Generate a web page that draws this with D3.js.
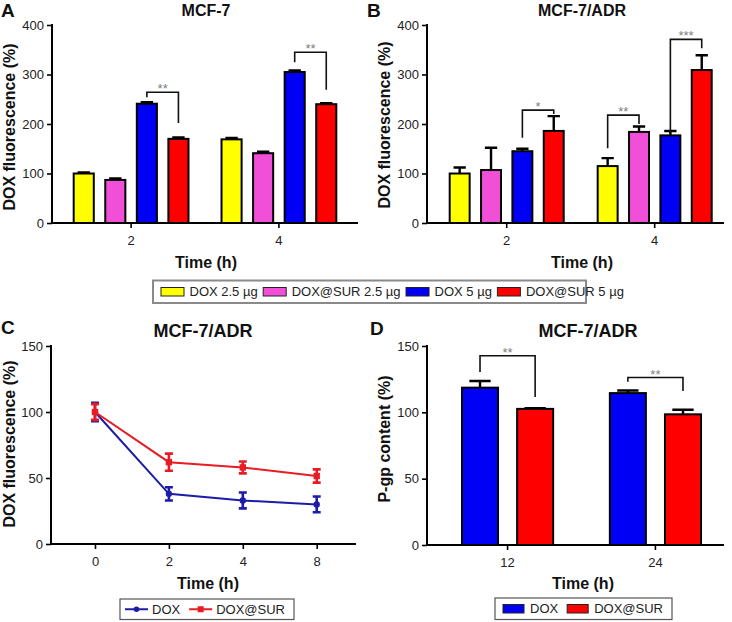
<!DOCTYPE html>
<html><head><meta charset="utf-8">
<script src="https://cdn.jsdelivr.net/npm/d3@7"></script>
<style>
body{margin:0;background:#fff}
svg{display:block;font-family:"Liberation Sans",Arial,Helvetica,sans-serif}
</style>
</head><body>
<svg id="c" width="732" height="622"></svg>
<script>
// ---------------- data ----------------
const seriesAB = ["DOX 2.5 µg", "DOX@SUR 2.5 µg", "DOX 5 µg", "DOX@SUR 5 µg"];
const timesAB = ["2", "4"];
const valuesA = [[100, 87, 241, 170], [169, 141, 305, 240]];
const errorsA = [[2, 3, 3, 3], [3, 3, 3, 2]];
const valuesB = [[100, 107, 145, 186], [115, 184, 177, 309]];
const errorsB = [[12, 45, 5, 30], [16, 11, 9, 30]];
const ticksAB = [0, 100, 200, 300, 400];

const timesC = ["0", "2", "4", "8"];
const seriesC = ["DOX", "DOX@SUR"];
const valuesCDox = [100, 38, 33, 30];
const errorsCDox = [7, 5, 6, 6];
const valuesCSur = [100, 62, 58, 51.5];
const errorsCSur = [6, 6.5, 4.5, 5];

const timesD = ["12", "24"];
const seriesD = ["DOX", "DOX@SUR"];
const valuesD = [[118.6, 102.6], [114.5, 98.5]];
const errorsD = [[5, 0.5], [2, 3.5]];
const ticksCD = [0, 50, 100, 150];

// significance brackets: [group, barFrom, barTo, top, leftFoot, rightFoot, label]
const sigA = [[0, 2, 3, 264, 254, 202, "**"], [1, 2, 3, 345, 325, 269, "**"]];
const sigB = [[0, 2, 3, 228, 172, 220, "*"], [1, 0, 1, 218, 151, 200, "**"], [1, 2, 3, 371, 180, 353, "***"]];
const sigD = [[0, 0, 1, 142.7, 130.4, 111.6, "**"], [1, 0, 1, 126.2, 123, 116.1, "**"]];

const barColors4 = ["#ffff00", "#f24fd8", "#0000f5", "#ff0000"];
const barColors2 = ["#0000f5", "#ff0000"];
const lineColors = ["#1c1ca6", "#e81c24"];

// ---------------- drawing ----------------
const svg = d3.select("#c");

function styleAxis(ax) {
  ax.selectAll(".domain").remove();
  ax.selectAll(".tick line").attr("stroke", "#000").attr("stroke-width", 1.6);
  ax.selectAll(".tick text").attr("font-size", 13).attr("fill", "#222")
    .attr("font-family", '"Liberation Sans",Arial,sans-serif');
}

function frame(p, y) {
  const g = svg.append("g");
  const ay = g.append("g").attr("transform", `translate(${p.axisLeft},0)`)
    .call(d3.axisLeft(y).tickValues(p.ticks).tickSize(5).tickPadding(3));
  styleAxis(ay);
  g.append("line").attr("x1", p.axisLeft).attr("x2", p.axisLeft)
    .attr("y1", y.range()[1] - 1).attr("y2", y.range()[0] + 1)
    .attr("stroke", "#000").attr("stroke-width", 2);
  g.append("text").attr("x", p.letterX).attr("y", p.letterY).text(p.letter)
    .attr("font-size", 19).attr("font-weight", "bold").attr("fill", "#111");
  g.append("text").attr("x", p.titleX).attr("y", p.titleY).text(p.title)
    .attr("text-anchor", "middle").attr("font-size", p.titleSize).attr("font-weight", "bold").attr("fill", "#111");
  g.append("text").attr("transform", `translate(${p.ylabelX},${p.ylabelY}) rotate(-90)`)
    .text(p.ylabel).attr("text-anchor", "middle").attr("font-size", 16).attr("font-weight", "bold").attr("fill", "#111");
  g.append("text").attr("x", p.xlabelX).attr("y", p.xlabelY).text("Time (h)")
    .attr("text-anchor", "middle").attr("font-size", 16).attr("font-weight", "bold").attr("fill", "#111");
  return g;
}

function xAxisLine(g, p, y, x) {
  const ax = g.append("g").attr("transform", `translate(0,${y.range()[0]})`)
    .call(d3.axisBottom(x).tickSize(5).tickPadding(8));
  styleAxis(ax);
  g.append("line").attr("x1", p.axisLeft).attr("x2", p.axisRight)
    .attr("y1", y.range()[0]).attr("y2", y.range()[0])
    .attr("stroke", "#000").attr("stroke-width", 2);
}

function barPanel(p) {
  const y = d3.scaleLinear().domain([0, p.ticks[p.ticks.length - 1]]).range([p.yBottom, p.yTop]);
  const g = frame(p, y);
  const x0 = d3.scaleBand().domain(p.times).range(p.bandRange)
    .paddingInner(p.outerPI).paddingOuter(p.outerPO);
  const x1 = d3.scaleBand().domain(d3.range(p.values[0].length))
    .range([0, x0.bandwidth()]).paddingInner(p.innerPI).paddingOuter(0);
  const bw = x1.bandwidth();
  const rows = [];
  p.times.forEach((t, gi) => p.values[gi].forEach((v, si) =>
    rows.push({t, gi, si, v, e: p.errors[gi][si]})));
  const cx = d => x0(d.t) + x1(d.si) + bw / 2;
  g.selectAll(".err").data(rows).join("path")
    .attr("d", d => `M${cx(d)},${y(d.v)}V${y(d.v + d.e)}M${cx(d) - bw * 0.28},${y(d.v + d.e)}H${cx(d) + bw * 0.28}`)
    .attr("stroke", "#000").attr("stroke-width", 2.4).attr("fill", "none");
  g.selectAll(".bar").data(rows).join("rect")
    .attr("x", d => x0(d.t) + x1(d.si) + 1).attr("width", bw - 2)
    .attr("y", d => y(d.v)).attr("height", d => y(0) - y(d.v))
    .attr("fill", d => p.colors[d.si]).attr("stroke", "#000").attr("stroke-width", 2);
  xAxisLine(g, p, y, x0);
  p.sig.forEach(s => {
    const t = p.times[s[0]];
    const xa = x0(t) + x1(s[1]) + bw / 2, xb = x0(t) + x1(s[2]) + bw / 2;
    g.append("path")
      .attr("d", `M${xa},${y(s[4])}V${y(s[3])}H${xb}V${y(s[5])}`)
      .attr("fill", "none").attr("stroke", "#111").attr("stroke-width", 1.6);
    g.append("text").attr("x", (xa + xb) / 2).attr("y", y(s[3]) + 1).text(s[6])
      .attr("text-anchor", "middle").attr("font-size", 13).attr("fill", "#808080");
  });
}

function linePanel(p) {
  const y = d3.scaleLinear().domain([0, p.ticks[p.ticks.length - 1]]).range([p.yBottom, p.yTop]);
  const g = frame(p, y);
  const x = d3.scalePoint().domain(p.times).range(p.pointRange).padding(0);
  xAxisLine(g, p, y, x);
  const series = [
    {vals: valuesCDox, errs: errorsCDox, color: lineColors[0], shape: "circle"},
    {vals: valuesCSur, errs: errorsCSur, color: lineColors[1], shape: "square"}
  ];
  series.forEach(s => {
    const pts = p.times.map((t, i) => ({t, v: s.vals[i], e: s.errs[i]}));
    g.append("path").datum(pts)
      .attr("d", d3.line().x(d => x(d.t)).y(d => y(d.v)))
      .attr("fill", "none").attr("stroke", s.color).attr("stroke-width", 2);
    g.selectAll(null).data(pts).join("path")
      .attr("d", d => `M${x(d.t)},${y(d.v - d.e)}V${y(d.v + d.e)}M${x(d.t) - 4},${y(d.v + d.e)}h8M${x(d.t) - 4},${y(d.v - d.e)}h8`)
      .attr("stroke", s.color).attr("stroke-width", 2.6).attr("fill", "none");
    if (s.shape === "circle") {
      g.selectAll(null).data(pts).join("circle")
        .attr("cx", d => x(d.t)).attr("cy", d => y(d.v)).attr("r", 3.2).attr("fill", s.color);
    } else {
      g.selectAll(null).data(pts).join("rect")
        .attr("x", d => x(d.t) - 3.2).attr("y", d => y(d.v) - 3.2)
        .attr("width", 6.4).attr("height", 6.4).attr("fill", s.color);
    }
  });
}

function legend(box, items, opt) {
  const g = svg.append("g");
  g.append("rect").attr("x", box[0]).attr("y", box[1]).attr("width", box[2]).attr("height", box[3])
    .attr("fill", "#fff").attr("stroke", opt.border).attr("stroke-width", opt.borderW);
  let cx = box[0] + opt.pad;
  const midY = box[1] + box[3] / 2;
  items.forEach(it => {
    if (it.kind === "swatch") {
      g.append("rect").attr("x", cx).attr("y", midY - opt.sh / 2).attr("width", opt.sw).attr("height", opt.sh)
        .attr("fill", it.color).attr("stroke", "#222").attr("stroke-width", 1);
    } else {
      g.append("line").attr("x1", cx).attr("x2", cx + opt.sw).attr("y1", midY).attr("y2", midY)
        .attr("stroke", it.color).attr("stroke-width", 2);
      if (it.kind === "circle")
        g.append("circle").attr("cx", cx + opt.sw / 2).attr("cy", midY).attr("r", 2.8).attr("fill", it.color);
      else
        g.append("rect").attr("x", cx + opt.sw / 2 - 3).attr("y", midY - 3).attr("width", 6).attr("height", 6).attr("fill", it.color);
    }
    cx += opt.sw + opt.gapIn;
    const t = g.append("text").attr("x", cx).attr("y", midY + 4.6).text(it.label)
      .attr("font-size", 13).attr("fill", "#222");
    cx += t.node().getComputedTextLength() + opt.gapOut;
  });
}

barPanel({
  letter: "A", letterX: 1, letterY: 17, title: "MCF-7", titleX: 206, titleY: 16, titleSize: 16,
  ylabel: "DOX fluorescence (%)", ylabelX: 15, ylabelY: 127, xlabelX: 206, xlabelY: 268,
  times: timesAB, values: valuesA, errors: errorsA, colors: barColors4, ticks: ticksAB,
  yTop: 25, yBottom: 223, axisLeft: 52, axisRight: 358,
  bandRange: [52, 358], outerPI: 0.21, outerPO: 0.14, innerPI: 0.3, sig: sigA
});
barPanel({
  letter: "B", letterX: 367, letterY: 17, title: "MCF-7/ADR", titleX: 582, titleY: 16, titleSize: 16,
  ylabel: "DOX fluorescence (%)", ylabelX: 390, ylabelY: 125, xlabelX: 582, xlabelY: 268,
  times: timesAB, values: valuesB, errors: errorsB, colors: barColors4, ticks: ticksAB,
  yTop: 25, yBottom: 223, axisLeft: 427, axisRight: 724,
  bandRange: [427, 734.4], outerPI: 0.216, outerPO: 0.1466, innerPI: 0.3, sig: sigB
});
linePanel({
  letter: "C", letterX: 1, letterY: 334, title: "MCF-7/ADR", titleX: 203, titleY: 337, titleSize: 18,
  ylabel: "DOX fluorescence (%)", ylabelX: 15, ylabelY: 444, xlabelX: 208, xlabelY: 589,
  times: timesC, ticks: ticksCD, yTop: 346, yBottom: 544, axisLeft: 51, axisRight: 356,
  pointRange: [95, 316.7]
});
barPanel({
  letter: "D", letterX: 370, letterY: 335, title: "MCF-7/ADR", titleX: 588, titleY: 337, titleSize: 18,
  ylabel: "P-gp content (%)", ylabelX: 390, ylabelY: 439, xlabelX: 583, xlabelY: 589,
  times: timesD, values: valuesD, errors: errorsD, colors: barColors2, ticks: ticksCD,
  yTop: 346, yBottom: 545, axisLeft: 427, axisRight: 724,
  bandRange: [427, 736], outerPI: 0.37, outerPO: 0.23, innerPI: 0.31, sig: sigD
});

legend([153, 280.5, 433, 22.5],
  seriesAB.map((s, i) => ({kind: "swatch", label: s, color: barColors4[i]})),
  {pad: 8, sw: 23, sh: 8.5, gapIn: 5.5, gapOut: 5.5, border: "#8a8a8a", borderW: 2});
legend([120, 599, 174, 20.5],
  seriesC.map((s, i) => ({kind: i === 0 ? "circle" : "square", label: s, color: lineColors[i]})),
  {pad: 5, sw: 23, sh: 8, gapIn: 4, gapOut: 9, border: "#555", borderW: 1.2});
legend([495, 598, 177, 21.5],
  seriesD.map((s, i) => ({kind: "swatch", label: s, color: barColors2[i]})),
  {pad: 8, sw: 21, sh: 8.5, gapIn: 6, gapOut: 9, border: "#555", borderW: 1.2});
</script>
</body></html>
